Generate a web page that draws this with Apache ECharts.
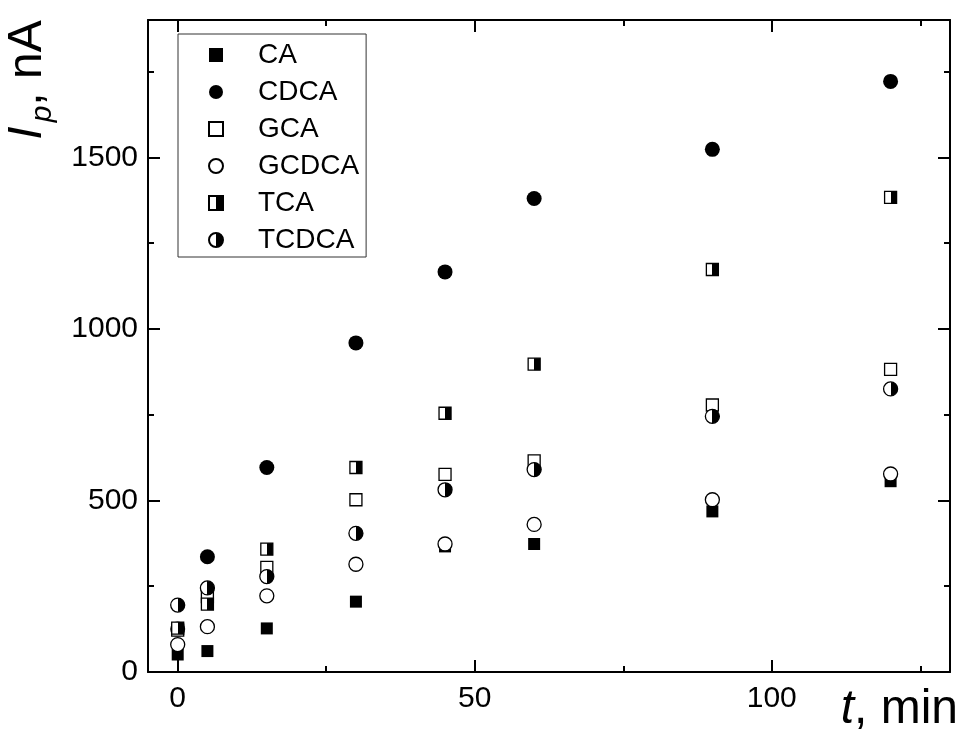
<!DOCTYPE html>
<html>
<head>
<meta charset="utf-8">
<script src="https://cdn.jsdelivr.net/npm/echarts@6/dist/echarts.min.js"></script>
<style>
  html, body { margin: 0; padding: 0; background: #fff; }
  #chart { width: 961px; height: 738px; }
</style>
</head>
<body>
<div id="chart"></div>
<script>
// time points, min
const times = [0, 5, 15, 30, 45, 60, 90, 120];

// peak current, nA
const caValues    = [51, 61, 127, 205, 366, 373, 468, 556];
const cdcaValues  = [125, 336, 596, 959, 1166, 1380, 1523, 1721];
const gcaValues   = [122, 220, 305, 502, 576, 615, 778, 882];
const gcdcaValues = [80, 132, 222, 314, 373, 430, 502, 577];
const tcaValues   = [128, 198, 358, 596, 754, 897, 1173, 1383];
const tcdcaValues = [195, 245, 278, 404, 531, 590, 745, 825];

const seriesNames = ['CA', 'CDCA', 'GCA', 'GCDCA', 'TCA', 'TCDCA'];

const xMajorTicks = [0, 50, 100];
const xMinorTicks = [25, 75, 125];
const yMajorTicks = [0, 500, 1000, 1500];
const yMinorTicks = [250, 750, 1250, 1750];

const FONT = 'Liberation Sans, Arial, sans-serif';
const X_MIN = -5, X_MAX = 130, Y_MIN = 0, Y_MAX = 1900;

const halfFill = new echarts.graphic.LinearGradient(0, 0, 1, 0, [
  { offset: 0, color: '#fff' },
  { offset: 0.5, color: '#fff' },
  { offset: 0.5, color: '#000' },
  { offset: 1, color: '#000' }
]);

function pairs(vals) {
  return times.map((t, i) => [t, vals[i]]);
}

function axis(kind, position, ticks, len, withLabel) {
  const isX = kind === 'x';
  return {
    type: 'value',
    position: position,
    min: isX ? X_MIN : Y_MIN,
    max: isX ? X_MAX : Y_MAX,
    axisLine: { show: withLabel !== null, onZero: false, lineStyle: { color: '#000', width: 2 } },
    axisTick: {
      show: true, inside: true, length: len, customValues: ticks,
      lineStyle: { color: '#000', width: 2 }
    },
    axisLabel: withLabel ? {
      show: true, customValues: ticks, color: '#000', fontSize: 30, fontFamily: FONT,
      margin: isX ? 12 : 10,
      formatter: v => String(v)
    } : { show: false },
    splitLine: { show: false },
    minorTick: { show: false }
  };
}

const chart = echarts.init(document.getElementById('chart'));

function scatter(name, vals, symbol, size, style) {
  return {
    name: name,
    type: 'scatter',
    xAxisIndex: 0,
    yAxisIndex: 0,
    symbol: symbol,
    symbolSize: size,
    itemStyle: Object.assign({ opacity: 1 }, style),
    emphasis: { disabled: true },
    data: pairs(vals)
  };
}

const openStyle = { color: '#fff', borderColor: '#000', borderWidth: 1.3 };
const halfStyle = { color: halfFill, borderColor: '#000', borderWidth: 1.3 };

chart.setOption({
  animation: false,
  backgroundColor: '#fff',
  grid: { left: 148, right: 11, top: 20, bottom: 66, outerBoundsMode: 'none', containLabel: false },
  xAxis: [
    axis('x', 'bottom', xMajorTicks, 12, true),
    axis('x', 'bottom', xMinorTicks, 6, null),
    axis('x', 'top', xMajorTicks, 12, false),
    axis('x', 'top', xMinorTicks, 6, null)
  ],
  yAxis: [
    axis('y', 'left', yMajorTicks, 12, true),
    axis('y', 'left', yMinorTicks, 6, null),
    axis('y', 'right', yMajorTicks, 12, false),
    axis('y', 'right', yMinorTicks, 6, null)
  ],
  legend: {
    data: seriesNames,
    orient: 'vertical',
    left: 178,
    top: 34,
    padding: [7, 7, 3, 30],
    itemWidth: 14,
    itemHeight: 14,
    itemGap: 9,
    borderColor: '#333',
    borderWidth: 1,
    backgroundColor: '#fff',
    selectedMode: false,
    itemStyle: { opacity: 1 },
    textStyle: { color: '#000', fontSize: 28, fontFamily: FONT, padding: [0, 0, 0, 30] }
  },
  series: [
    scatter('CA', caValues, 'rect', 12, { color: '#000' }),
    scatter('CDCA', cdcaValues, 'circle', 15, { color: '#000' }),
    scatter('GCA', gcaValues, 'rect', 12, openStyle),
    scatter('GCDCA', gcdcaValues, 'circle', 14, openStyle),
    scatter('TCA', tcaValues, 'rect', 12, halfStyle),
    scatter('TCDCA', tcdcaValues, 'circle', 14, halfStyle)
  ],
  graphic: [
    {
      type: 'text',
      x: 34,
      y: 80,
      rotation: Math.PI / 2,
      style: {
        text: '{i|I}{s|p}{n|, nA}',
        align: 'center',
        verticalAlign: 'middle',
        rich: {
          i: { fontSize: 48, fontStyle: 'italic', fontFamily: FONT, fill: '#000', verticalAlign: 'bottom', lineHeight: 48, padding: [0, 4, 6, 0] },
          s: { fontSize: 30, fontStyle: 'italic', fontFamily: FONT, fill: '#000', verticalAlign: 'bottom', lineHeight: 30 },
          n: { fontSize: 48, fontFamily: FONT, fill: '#000', verticalAlign: 'bottom', lineHeight: 48, padding: [0, 0, 6, 0] }
        }
      }
    },
    {
      type: 'text',
      right: 3,
      bottom: 4,
      style: {
        text: '{i|t}{n|, min}',
        rich: {
          i: { fontSize: 48, fontStyle: 'italic', fontFamily: FONT, fill: '#000' },
          n: { fontSize: 48, fontFamily: FONT, fill: '#000' }
        }
      }
    }
  ]
});
</script>
</body>
</html>
